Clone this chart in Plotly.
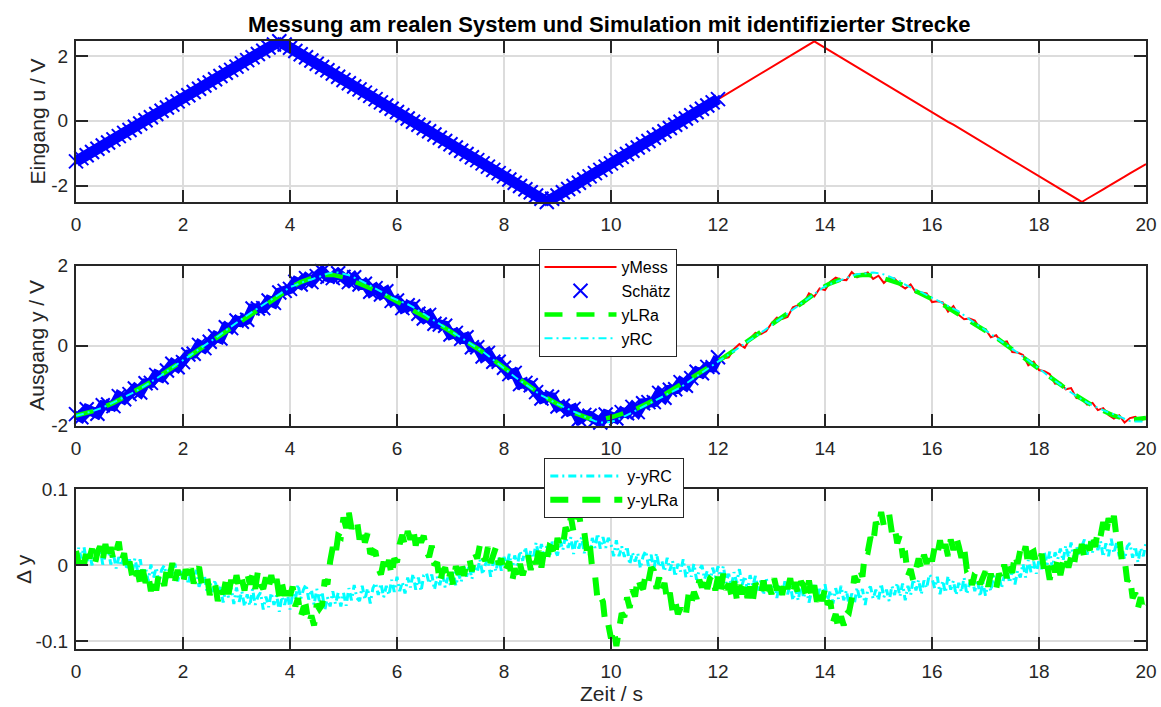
import numpy as np
import plotly.graph_objects as go

# ---------------- data ----------------
# sample times: 0.1 s grid (panels 1-2), 0.05 s grid (panel 3)
t = np.round(np.arange(201) * 0.1, 1)
t_fine = np.round(np.arange(401) * 0.05, 2)

# input u / V (triangle)
u = [
    -1.25, -1.15, -1.06, -0.96, -0.86, -0.76, -0.67, -0.57, -0.47, -0.37,
    -0.28, -0.18, -0.08, 0.02, 0.11, 0.21, 0.31, 0.41, 0.50, 0.60,
    0.70, 0.79, 0.89, 0.99, 1.09, 1.18, 1.28, 1.38, 1.48, 1.57,
    1.67, 1.77, 1.87, 1.96, 2.06, 2.16, 2.26, 2.35, 2.45, 2.35,
    2.25, 2.15, 2.05, 1.96, 1.86, 1.76, 1.66, 1.56, 1.46, 1.36,
    1.26, 1.16, 1.06, 0.97, 0.87, 0.77, 0.67, 0.57, 0.47, 0.37,
    0.27, 0.17, 0.07, -0.03, -0.12, -0.22, -0.32, -0.42, -0.52, -0.62,
    -0.72, -0.82, -0.92, -1.02, -1.12, -1.21, -1.31, -1.41, -1.51, -1.61,
    -1.71, -1.81, -1.91, -2.01, -2.11, -2.20, -2.30, -2.40, -2.50, -2.40,
    -2.30, -2.20, -2.10, -2.01, -1.91, -1.81, -1.71, -1.61, -1.51, -1.41,
    -1.31, -1.21, -1.11, -1.02, -0.92, -0.82, -0.72, -0.62, -0.52, -0.42,
    -0.32, -0.22, -0.12, -0.03, 0.07, 0.17, 0.27, 0.37, 0.47, 0.57,
    0.67, 0.77, 0.87, 0.97, 1.06, 1.16, 1.26, 1.36, 1.46, 1.56,
    1.66, 1.76, 1.86, 1.96, 2.05, 2.15, 2.25, 2.35, 2.45, 2.35,
    2.25, 2.15, 2.05, 1.96, 1.86, 1.76, 1.66, 1.56, 1.46, 1.36,
    1.26, 1.16, 1.06, 0.97, 0.87, 0.77, 0.67, 0.57, 0.47, 0.37,
    0.27, 0.17, 0.07, -0.03, -0.12, -0.22, -0.32, -0.42, -0.52, -0.62,
    -0.72, -0.82, -0.92, -1.02, -1.12, -1.21, -1.31, -1.41, -1.51, -1.61,
    -1.71, -1.81, -1.91, -2.01, -2.11, -2.20, -2.30, -2.40, -2.50, -2.40,
    -2.31, -2.21, -2.11, -2.01, -1.92, -1.82, -1.72, -1.62, -1.53, -1.43,
    -1.33,
]

# simulated output yLRa / V
y_lra = [
    -1.75, -1.72, -1.68, -1.64, -1.60, -1.55, -1.49, -1.43, -1.36, -1.29,
    -1.22, -1.14, -1.06, -0.98, -0.90, -0.82, -0.73, -0.64, -0.55, -0.46,
    -0.37, -0.28, -0.18, -0.09, 0.01, 0.10, 0.19, 0.28, 0.38, 0.47,
    0.56, 0.65, 0.74, 0.83, 0.91, 1.00, 1.09, 1.18, 1.27, 1.36,
    1.45, 1.52, 1.59, 1.65, 1.69, 1.72, 1.75, 1.77, 1.77, 1.75,
    1.71, 1.66, 1.61, 1.56, 1.50, 1.44, 1.38, 1.32, 1.25, 1.18,
    1.11, 1.04, 0.97, 0.90, 0.83, 0.75, 0.67, 0.60, 0.52, 0.44,
    0.36, 0.28, 0.19, 0.11, 0.02, -0.07, -0.16, -0.26, -0.36, -0.46,
    -0.56, -0.66, -0.76, -0.86, -0.96, -1.05, -1.14, -1.23, -1.31, -1.39,
    -1.46, -1.53, -1.60, -1.67, -1.73, -1.78, -1.82, -1.84, -1.84, -1.82,
    -1.79, -1.75, -1.71, -1.67, -1.62, -1.56, -1.50, -1.43, -1.36, -1.29,
    -1.22, -1.14, -1.06, -0.98, -0.90, -0.82, -0.73, -0.64, -0.56, -0.47,
    -0.39, -0.30, -0.21, -0.12, -0.03, 0.06, 0.15, 0.24, 0.33, 0.42,
    0.51, 0.60, 0.70, 0.80, 0.90, 1.00, 1.10, 1.20, 1.30, 1.40,
    1.49, 1.56, 1.62, 1.67, 1.71, 1.74, 1.76, 1.77, 1.77, 1.75,
    1.72, 1.68, 1.64, 1.60, 1.55, 1.49, 1.43, 1.37, 1.31, 1.24,
    1.17, 1.10, 1.03, 0.95, 0.88, 0.80, 0.72, 0.64, 0.55, 0.47,
    0.38, 0.29, 0.20, 0.10, 0.01, -0.09, -0.18, -0.28, -0.38, -0.48,
    -0.57, -0.67, -0.77, -0.87, -0.97, -1.07, -1.16, -1.25, -1.34, -1.42,
    -1.50, -1.57, -1.64, -1.70, -1.75, -1.79, -1.82, -1.84, -1.84, -1.83,
    -1.81,
]

# measurement noise on yMess, in 0.01 V
noise_cv = [
    4, -7, 9, -3, -10, 6, 2, -8, 10, -5,
    1, 7, -11, 4, -3, 9, -6, 2, 10, -8,
    -4, 6, -2, 11, -7, 0, 5, -10, 8, -3,
    7, -5, -9, 10, 2, -6, 4, -11, 6, 1,
    -3, 8, -6, 4, -10, 2, 11, -5, -8, 6,
    1, -7, 10, -3, 5, -9, 6, -4, 11, -6,
    2, -10, 4, 8, -3, -7, 10, -5, 1, 6,
    -8, 4, -2, 10, -6, 3, -11, 8, -4, 6,
    1, -5, 8, -10, 3, 6, -2, -9, 4, 10,
    -6, 3, -4, 9, -11, 5, 7, -3, -8, 10,
    0, -7, 5, -2, 9, -10, 6, 2, -5, 11,
    -8, 4, -3, 7, -10, 1, 8, -5, 3, -7,
    10, -2, -8, 4, 7, -11, 3, 8, -4, -6,
    5, 10, -3, -8, 6, 1, -5, 11, -7, 3,
    -10, 4, 8, -2, -7, 10, -5, 1, 6, -8,
    3, -11, 5, 8, -3, -6, 10, -4, 2, 7,
    -8, 1, 5, -10, 11, -3, -6, 4, 8, -5,
    3, -8, 6, -2, 10, -7, 1, 5, -11, 8,
    -4, 3, 6, -8, 4, -2, 10, -6, 2, -5,
    7, -4, 8, -3, -7, 5, -10, 3, 6, -4,
    1,
]

# slow part of y - yLRa and y - yRC on the 0.1 s grid, in mV (gives yRC)
d_lra_trend_mv = [
    11, 12, 12, 13, 14, 15, 16, 17, 18, 10,
    -5, -12, -18, -20, -22, -24, -18, -10, -9, -11,
    -13, -14, -15, -15, -20, -28, -32, -35, -32, -28,
    -24, -22, -20, -20, -21, -22, -24, -26, -28, -32,
    -35, -45, -55, -65, -72, -63, -45, -15, 15, 35,
    50, 63, 55, 46, 35, 24, 6, -2, -4, -7,
    15, 28, 41, 40, 37, 28, 20, 5, -11, -13,
    -15, -10, -5, -2, 5, 15, 15, 14, 13, 8,
    -2, -6, -11, -8, -2, 4, 6, 9, 14, 18,
    24, 33, 46, 55, 61, 40, 20, -20, -46, -72,
    -89, -98, -72, -55, -37, -28, -20, -15, -11, -24,
    -33, -41, -55, -67, -55, -46, -36, -25, -20, -20,
    -20, -24, -28, -31, -33, -35, -34, -33, -32, -31,
    -30, -28, -26, -27, -28, -28, -30, -33, -36, -38,
    -41, -55, -70, -80, -67, -41, -11, -7, 24, 41,
    55, 65, 55, 46, 33, 2, -11, -5, 2, 7,
    15, 18, 21, 24, 26, 28, 11, -11, -15, -18,
    -20, -20, -20, -15, -8, 2, 8, 15, 12, 9,
    7, 0, -7, -4, 0, 2, 6, 12, 15, 22,
    33, 40, 46, 50, 58, 33, -2, -28, -40, -50,
    -59,
]
d_rc_trend_mv = [
    13, 13, 12, 12, 12, 11, 10, 8, 6, 4,
    2, 0, -4, -7, -9, -11, -11, -11, -11, -11,
    -11, -13, -17, -20, -24, -28, -31, -34, -37, -39,
    -41, -42, -43, -44, -45, -46, -47, -47, -48, -48,
    -48, -40, -35, -36, -38, -41, -44, -47, -46, -44,
    -41, -40, -39, -38, -38, -37, -35, -33, -31, -30,
    -28, -26, -25, -23, -22, -20, -20, -20, -20, -20,
    -20, -17, -14, -11, -7, -4, -3, -2, -1, 0,
    2, 4, 7, 9, 12, 15, 17, 19, 21, 23,
    24, 26, 27, 28, 27, 25, 24, 27, 30, 33,
    24, 20, 17, 14, 11, 7, 7, 7, 7, 4,
    0, -2, -3, -4, -6, -9, -10, -11, -11, -11,
    -11, -13, -15, -17, -18, -20, -22, -24, -25, -27,
    -28, -30, -32, -34, -35, -37, -37, -37, -37, -37,
    -37, -38, -39, -40, -40, -41, -40, -39, -38, -37,
    -37, -36, -35, -34, -34, -33, -31, -29, -27, -25,
    -24, -25, -26, -27, -28, -28, -28, -28, -28, -28,
    -28, -26, -23, -20, -17, -15, -11, -8, -5, -2,
    2, 5, 8, 10, 13, 15, 17, 19, 21, 23,
    24, 24, 23, 22, 21, 20, 19, 17, 15, 18,
    24,
]

# panel 3: y - yLRa on the 0.05 s grid, in mV (one row per second)
d_lra_mv = [
    19, 2, 17, 0, 23, 9, 22, 1, 17, 25, 7, 28, 10, 24, 6, 22, 31, 5, 16, -9,
    5, -14, -23, -7, -25, -6, -23, -12, -34, -17, -33, -10, -14, -27, -3, -16, 3, -20, -6, -20,
    -25, -5, -18, -4, -24, -9, -2, -25, -23, -14, -39, -25, -24, -47, -29, -38, -20, -38, -19, -32,
    -13, -30, -18, -33, -10, -25, -12, -31, -8, -25, -31, -16, -30, -13, -30, -18, -41, -24, -40, -24,
    -40, -28, -54, -43, -68, -56, -55, -77, -66, -79, -51, -57, -52, -19, -25, 5, 24, 13, 39, 37,
    63, 49, 69, 48, 58, 60, 34, 48, 30, 42, 15, 19, 17, -4, -12, 5, -8, 7, -14, 9,
    4, 28, 40, 26, 45, 34, 50, 26, 45, 30, 39, 18, 11, 26, 0, 4, -23, -8, -3, -22,
    -9, -25, -1, -12, 6, -14, 3, 10, -8, 17, 9, 27, 12, 6, 24, 3, 17, 24, 1, 9,
    -11, 0, 5, -22, -4, -15, 2, -13, 1, 13, -6, 11, 2, 19, -3, 20, 8, 25, 23, 10,
    36, 23, 25, 50, 42, 64, 44, 63, 70, 44, 44, 18, 30, -5, -12, -46, -40, -48, -81, -78,
    -96, -83, -106, -79, -63, -68, -42, -56, -32, -41, -16, -27, -31, -11, -21, -3, -7, -31, -16, -34,
    -23, -46, -36, -60, -47, -64, -56, -68, -65, -38, -51, -35, -44, -19, -29, -14, -31, -17, -13, -33,
    -15, -33, -11, -32, -24, -39, -21, -44, -26, -38, -24, -43, -28, -47, -24, -30, -39, -20, -41, -26,
    -38, -17, -33, -18, -39, -20, -31, -17, -38, -22, -40, -21, -27, -41, -20, -41, -26, -48, -34, -47,
    -30, -52, -47, -75, -64, -85, -67, -79, -58, -61, -44, -14, -22, -4, -15, 19, 18, 37, 28, 57,
    49, 70, 52, 64, 67, 43, 51, 29, 40, 14, 15, -14, -5, -20, -2, 9, -5, 14, 2, 19,
    5, 24, 14, 33, 13, 28, 12, 34, 20, 38, 25, 10, 23, -5, -3, -26, -11, -7, -25, -13,
    -8, -28, -11, -25, -31, -11, -18, 1, -17, 1, -10, 15, 2, 20, 11, 25, -1, 16, 18, 1,
    3, 15, -9, 2, -19, 2, -9, 8, -13, 4, 14, -3, 11, -1, 21, 8, 28, 8, 26, 20,
    42, 24, 46, 38, 57, 40, 62, 50, 65, 36, 38, 4, 8, -21, -15, -43, -36, -56, -42, -61,
    -52,
]

# panel 3: y - yRC on the 0.05 s grid, in mV (one row per second)
d_rc_mv = [
    6, 23, 9, 24, 3, 18, 0, 20, 7, 23, 1, 14, 23, 1, 15, -4, 11, -1, 16, -6,
    8, -10, 9, -7, 8, -14, -3, -21, 1, -16, -3, -23, -6, 0, -18, -2, -15, 2, -21, -5,
    -20, -7, -25, -5, -23, -6, -28, -18, -13, -36, -21, -35, -19, -42, -28, -49, -29, -42, -29, -51,
    -29, -48, -34, -54, -38, -53, -31, -52, -41, -36, -58, -41, -55, -36, -52, -39, -61, -41, -52, -36,
    -58, -37, -45, -25, -44, -32, -25, -45, -32, -52, -31, -47, -35, -59, -42, -54, -34, -51, -36, -54,
    -36, -53, -30, -46, -26, -43, -47, -27, -45, -30, -50, -30, -23, -39, -24, -42, -27, -39, -19, -35,
    -15, -34, -22, -37, -16, -29, -11, -32, -16, -34, -13, -10, -24, -12, -32, -15, -26, -9, -29, -16,
    -26, -7, -27, -11, -22, 0, -15, 0, -18, 1, -9, 8, -12, 1, 8, -15, 5, -8, 11, -7,
    11, -1, 15, -7, 13, 0, 19, 6, 24, 4, 19, 9, 30, 12, 28, 9, 26, 10, 31, 20,
    13, 33, 20, 39, 23, 37, 15, 35, 22, 37, 16, 31, 12, 36, 23, 42, 22, 37, 23, 36,
    28, 12, 33, 12, 25, 11, 25, 1, 17, 5, 16, -4, 12, 19, -1, 14, -6, 16, -2, 6,
    -8, 10, -7, 6, -15, 2, -8, 8, -16, -1, -15, 2, -19, -6, 0, -18, -7, -24, -3, -16,
    -1, -18, -1, -23, -11, -27, -9, -23, -5, -26, -14, -33, -13, -27, -14, -33, -20, -39, -16, -34,
    -33, -20, -43, -25, -40, -21, -38, -25, -46, -31, -46, -24, -43, -29, -49, -33, -26, -44, -31, -47,
    -25, -46, -33, -50, -30, -44, -27, -46, -33, -53, -37, -50, -29, -45, -31, -52, -32, -28, -44, -32,
    -46, -24, -42, -32, -47, -27, -39, -23, -41, -24, -46, -27, -39, -18, -33, -19, -38, -20, -30, -12,
    -17, -30, -15, -38, -20, -36, -14, -32, -20, -39, -23, -35, -16, -38, -24, -17, -34, -19, -41, -22,
    -40, -21, -34, -14, -27, -13, -30, -14, -4, -23, -7, -25, -7, -16, 2, -16, 7, -9, 5, -11,
    7, -5, 17, 1, 18, -4, 17, 8, 22, 6, 26, 11, 30, 8, 25, 13, 25, 34, 14, 32,
    17, 35, 20, 32, 11, 29, 12, 35, 16, 30, 12, 24, 8, 25, 29, 10, 25, 4, 23, 12,
    30,
]

n_est = 121  # estimation data: 0 ... 12 s

x_ticks = [0, 2, 4, 6, 8, 10, 12, 14, 16, 18, 20]
y1_ticks = [-2, 0, 2]
y1_text = ["-2", "0", "2"]
y3_ticks = [-0.1, 0, 0.1]
y3_text = ["-0.1", "0", "0.1"]

for arr in (u, y_lra, noise_cv, d_lra_trend_mv, d_rc_trend_mv):
    assert len(arr) == 201, len(arr)
for arr in (d_lra_mv, d_rc_mv):
    assert len(arr) == 401, len(arr)

u = np.array(u)
y_lra = np.array(y_lra)
y_mess = y_lra + np.array(noise_cv) / 100.0
y_rc = y_lra + (np.array(d_lra_trend_mv) - np.array(d_rc_trend_mv)) / 1000.0
d_lra = np.array(d_lra_mv) / 1000.0
d_rc = np.array(d_rc_mv) / 1000.0

# ---------------- figure ----------------
FONT = "Liberation Sans, Arial, sans-serif"
AX = "#262626"
BLUE_X = dict(symbol="x-thin", size=14, color="blue", line=dict(width=2, color="blue"))

fig = go.Figure()

# top: input
fig.add_trace(go.Scatter(x=t, y=u, mode="lines", line=dict(color="red", width=2),
                         showlegend=False, xaxis="x", yaxis="y"))
fig.add_trace(go.Scatter(x=t[:n_est], y=u[:n_est], mode="lines", line=dict(color="blue", width=11),
                         showlegend=False, hoverinfo="skip", xaxis="x", yaxis="y"))
fig.add_trace(go.Scatter(x=t[:n_est], y=u[:n_est], mode="markers", marker=BLUE_X,
                         cliponaxis=False, showlegend=False, xaxis="x", yaxis="y"))

# middle: output
fig.add_trace(go.Scatter(x=t, y=y_mess, name="yMess", mode="lines",
                         line=dict(color="red", width=2), xaxis="x2", yaxis="y2", legend="legend"))
fig.add_trace(go.Scatter(x=t[:n_est], y=y_mess[:n_est], mode="lines", line=dict(color="blue", width=10),
                         showlegend=False, hoverinfo="skip", xaxis="x2", yaxis="y2"))
fig.add_trace(go.Scatter(x=t[:n_est], y=y_mess[:n_est], name="Schätz", mode="markers",
                         marker=BLUE_X, cliponaxis=False, xaxis="x2", yaxis="y2", legend="legend"))
fig.add_trace(go.Scatter(x=t, y=y_lra, name="yLRa", mode="lines",
                         line=dict(color="#00ff00", width=4.5, dash="18px,14px"),
                         xaxis="x2", yaxis="y2", legend="legend"))
fig.add_trace(go.Scatter(x=t, y=y_rc, name="yRC", mode="lines",
                         line=dict(color="#00ffff", width=2, dash="8px,4px,2px,4px"),
                         xaxis="x2", yaxis="y2", legend="legend"))

# bottom: differences
fig.add_trace(go.Scatter(x=t_fine, y=d_rc, name="y-yRC", mode="lines",
                         line=dict(color="#00ffff", width=3, dash="8px,4px,2px,4px"),
                         xaxis="x3", yaxis="y3", legend="legend2"))
fig.add_trace(go.Scatter(x=t_fine, y=d_lra, name="y-yLRa", mode="lines",
                         line=dict(color="#00ff00", width=6, dash="18px,14px"),
                         xaxis="x3", yaxis="y3", legend="legend2"))

common = dict(showline=True, linecolor=AX, linewidth=2, mirror="ticks",
              ticks="inside", ticklen=12, tickwidth=2, tickcolor=AX,
              showgrid=True, gridcolor="#dcdcdc", gridwidth=1.5, zeroline=False,
              automargin=False,
              tickfont=dict(family=FONT, size=19, color=AX))

xcommon = dict(common, range=[0, 20], tickvals=x_ticks, ticktext=[str(v) for v in x_ticks],
               domain=[0, 1], ticklabelstandoff=4)

# plot area: 41 .. 649 px (608 px high)
def dom(top_px, bot_px):
    return [(649 - bot_px) / 608.0, (649 - top_px) / 608.0]

LEG = dict(xanchor="left", yanchor="top", bgcolor="white", bordercolor=AX, borderwidth=1,
           font=dict(family=FONT, size=16, color="black"), itemwidth=72, tracegroupgap=0)

fig.update_layout(
    width=1161, height=707,
    margin=dict(l=76, r=15, t=41, b=58, autoexpand=False),
    paper_bgcolor="white", plot_bgcolor="white",
    font=dict(family=FONT, color="black"),
    xaxis=dict(xcommon, anchor="y"),
    xaxis2=dict(xcommon, anchor="y2"),
    xaxis3=dict(xcommon, anchor="y3"),
    yaxis=dict(common, domain=dom(41, 202.3), range=[-2.51, 2.46], anchor="x",
               tickvals=y1_ticks, ticktext=y1_text, ticklabelstandoff=2),
    yaxis2=dict(common, domain=dom(265.7, 425.7), range=[-2, 2], anchor="x2",
                tickvals=y1_ticks, ticktext=y1_text, ticklabelstandoff=2),
    yaxis3=dict(common, domain=dom(489.3, 649), range=[-0.11, 0.1], anchor="x3",
                tickvals=y3_ticks, ticktext=y3_text, ticklabelstandoff=2),
    legend=dict(LEG, x=(538.5 - 76) / 1070, y=(649 - 249) / 608),
    legend2=dict(LEG, x=(544.3 - 76) / 1070, y=(649 - 458) / 608),
    showlegend=True,
)

def ann(text, xpx, ypx, size, angle=0, bold=False):
    fig.add_annotation(text=("<b>%s</b>" % text) if bold else text,
                       x=(xpx - 76) / 1070.0, y=(649 - ypx) / 608.0,
                       xref="paper", yref="paper", showarrow=False,
                       xanchor="center", yanchor="middle", textangle=angle,
                       font=dict(family=FONT, size=size, color="black" if bold else AX))

ann("Messung am realen System und Simulation mit identifizierter Strecke", 609.5, 24, 22, bold=True)
ann("Eingang u / V", 37, 121.5, 21, angle=-90)
ann("Ausgang y / V", 37, 345.7, 21, angle=-90)
ann("\u0394 y", 23, 569, 21, angle=-90)
ann("Zeit / s", 611, 693, 21)

fig.write_html("out.html")
